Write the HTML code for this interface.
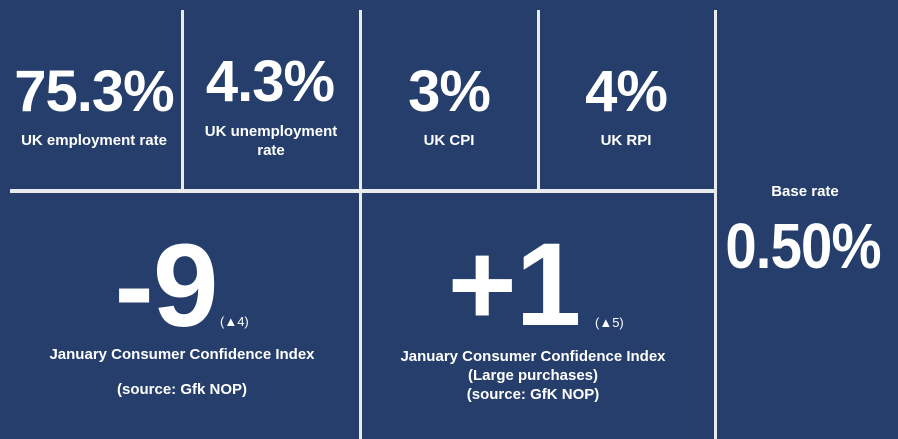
<!DOCTYPE html>
<html><head><meta charset="utf-8">
<style>
body{margin:0;}
#root{position:relative;width:898px;height:439px;background:#253e6b;overflow:hidden;font-family:"Liberation Sans",sans-serif;color:#fff;font-weight:bold;}
.ln{position:absolute;background:#e9ebef;}
.t{position:absolute;white-space:nowrap;text-align:center;line-height:1;transform:translateX(-50%);}
.big{letter-spacing:-1px;}
.lab{font-size:15px;}
.sm{font-size:13px;font-weight:normal;position:absolute;white-space:nowrap;line-height:1;}
</style></head><body>
<div id="root">
  <div class="ln" style="left:181px;top:10px;width:3px;height:179px"></div>
  <div class="ln" style="left:359px;top:10px;width:3px;height:429px"></div>
  <div class="ln" style="left:537px;top:10px;width:3px;height:179px"></div>
  <div class="ln" style="left:714px;top:10px;width:3px;height:429px"></div>
  <div class="ln" style="left:10px;top:189px;width:707px;height:4px"></div>

  <div class="t big" style="left:94px;top:63px;font-size:58px;">75.3%</div>
  <div class="t lab" style="left:94px;top:133px;">UK employment rate</div>

  <div class="t big" style="left:270px;top:53px;font-size:58px;">4.3%</div>
  <div class="t lab" style="left:271px;top:122px;line-height:19px;">UK unemployment<br>rate</div>

  <div class="t big" style="left:449px;top:63px;font-size:58px;">3%</div>
  <div class="t lab" style="left:449px;top:133px;">UK CPI</div>

  <div class="t big" style="left:626px;top:63px;font-size:58px;">4%</div>
  <div class="t lab" style="left:626px;top:133px;">UK RPI</div>

  <div class="t big" style="left:166px;top:227px;font-size:118px;">-9</div>
  <div class="sm" style="left:220px;top:315px;">(▲4)</div>
  <div class="t lab" style="left:182px;top:347px;">January Consumer Confidence Index</div>
  <div class="t lab" style="left:182px;top:382px;">(source: Gfk NOP)</div>

  <div class="t big" style="left:514px;top:226px;font-size:118px;">+1</div>
  <div class="sm" style="left:595px;top:316px;">(▲5)</div>
  <div class="t lab" style="left:533px;top:347px;line-height:19px;">January Consumer Confidence Index<br>(Large purchases)<br>(source: GfK NOP)</div>

  <div class="t lab" style="left:805px;top:184px;">Base rate</div>
  <div class="t big" style="left:803px;top:214px;font-size:64px;transform:translateX(-50%) scaleX(0.88);">0.50%</div>
</div>
</body></html>
